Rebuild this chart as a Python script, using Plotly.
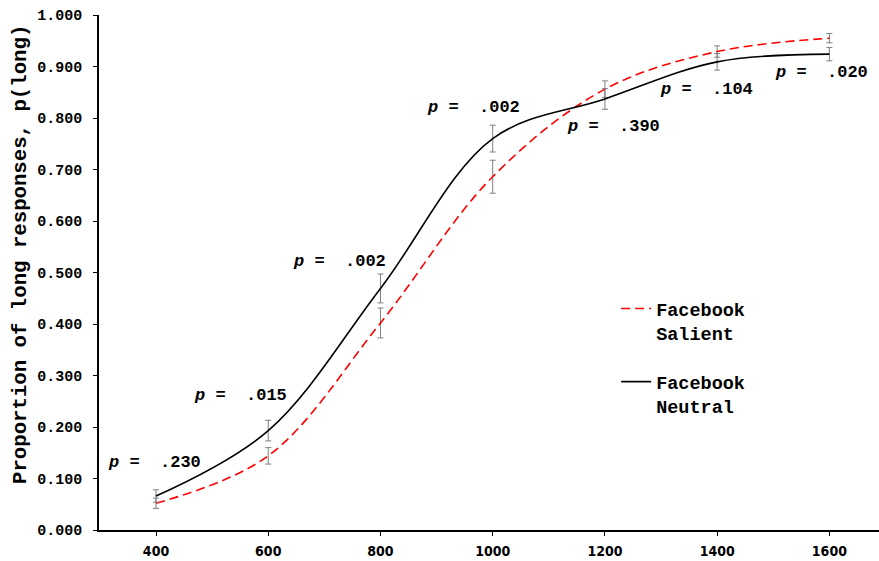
import plotly.graph_objects as go

durations = [400, 600, 800, 1000, 1200, 1400, 1600]
salient = [0.052, 0.144, 0.402, 0.686, 0.856, 0.929, 0.955]
salient_err = [0.010, 0.016, 0.029, 0.032, 0.016, 0.011, 0.009]
neutral = [0.066, 0.193, 0.469, 0.760, 0.837, 0.909, 0.924]
neutral_err = [0.012, 0.020, 0.028, 0.026, 0.020, 0.016, 0.013]

p_labels = ["<i>p</i> =  .230", "<i>p</i> =  .015", "<i>p</i> =  .002", "<i>p</i> =  .002",
            "<i>p</i> =  .390", "<i>p</i> =  .104", "<i>p</i> =  .020"]
p_x = [397, 551, 727, 966, 1215, 1381, 1586]
p_y = [0.132, 0.262, 0.522, 0.821, 0.783, 0.856, 0.889]

ytick_vals = [i / 10 for i in range(11)]
xtick_vals = durations

MONO = "Courier New, Liberation Mono, monospace"
NARROW = "Liberation Sans Narrow, Arial Narrow, DejaVu Sans Condensed, sans-serif"

fig = go.Figure()
fig.add_trace(go.Scatter(
    x=durations, y=salient, mode="lines", name="Facebook<br>Salient",
    line=dict(color="#ff0000", width=1.6, dash="9px,5px", shape="spline", smoothing=1),
    error_y=dict(type="data", array=salient_err, color="#7f7f7f", thickness=1, width=3),
    legendgroup="s",
))
fig.add_trace(go.Scatter(
    x=durations, y=neutral, mode="lines", name="Facebook<br>Neutral",
    line=dict(color="#000000", width=1.6, shape="spline", smoothing=1),
    error_y=dict(type="data", array=neutral_err, color="#7f7f7f", thickness=1, width=3),
    legendgroup="n",
))

for t, x, y in zip(p_labels, p_x, p_y):
    fig.add_annotation(x=x, y=y, text=t, showarrow=False, xanchor="center", yanchor="middle",
                       font=dict(family=MONO, size=17, color="#000", weight="bold"))

fig.add_annotation(xref="paper", yref="paper", x=-0.1, y=0.534,
                   text="Proportion of long responses, p(long)", textangle=-90,
                   showarrow=False, xanchor="center", yanchor="middle",
                   font=dict(family=MONO, size=20.7, color="#000", weight="bold"))

fig.update_layout(
    width=879, height=561,
    margin=dict(l=99, r=0, t=15, b=31),
    paper_bgcolor="white", plot_bgcolor="white",
    showlegend=True,
    legend=dict(x=0.663, y=0.466, xanchor="left", yanchor="top",
                font=dict(family=MONO, size=18.5, color="#000", weight="bold"),
                valign="top", traceorder="grouped", tracegroupgap=22,
                bgcolor="rgba(0,0,0,0)"),
    xaxis=dict(range=[298.4, 1688.4], tickvals=xtick_vals, ticks="outside", ticklen=4,
               tickcolor="#000", tickwidth=1, showline=True, linecolor="#000", linewidth=1.5,
               showgrid=False, zeroline=False, ticklabelstandoff=3,
               tickfont=dict(family=NARROW, size=14, color="#000", weight="bold")),
    yaxis=dict(range=[0, 1], tickvals=ytick_vals, tickformat=".3f", ticks="outside", ticklen=4,
               tickcolor="#000", tickwidth=1, showline=True, linecolor="#000", linewidth=1.5,
               showgrid=False, zeroline=False, ticklabelstandoff=8,
               tickfont=dict(family=MONO, size=15, color="#000", weight="bold")),
)

fig.write_html("out.html")
